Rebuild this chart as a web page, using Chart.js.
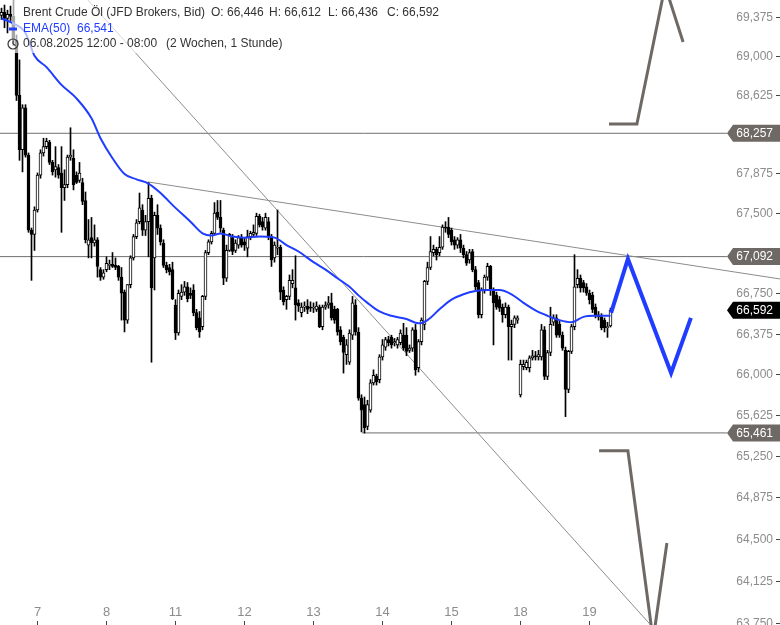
<!DOCTYPE html>
<html>
<head>
<meta charset="utf-8">
<script src="https://cdn.jsdelivr.net/npm/chart.js@4.4.1/dist/chart.umd.min.js"></script>
<style>
html, body { margin: 0; padding: 0; background: #fff; }
#wrap { width: 780px; height: 625px; }
</style>
</head>
<body>
<div id="wrap"><canvas id="chart" width="780" height="625"></canvas></div>
<script>
// hourly candles, 06.08.2025 12:00 .. 19.08.2025 07:00
const opens = [
  69.39, 69.42, 69.36, 69.40, 69.38, 69.15, 68.62, 68.10, 68.50, 68.05,
  67.34, 67.30, 67.53, 67.86, 68.07, 68.13, 68.17, 67.98, 67.91, 67.93,
  67.88, 67.74, 67.77, 68.03, 68.02, 67.86, 67.81, 67.79, 67.62, 67.20,
  67.27, 67.22, 67.25, 66.97, 66.90, 66.97, 67.01, 67.02, 67.01, 67.00,
  66.90, 66.76, 66.50, 66.83, 67.08, 67.28, 67.42, 67.53, 67.34, 67.42,
  67.64, 67.08, 67.48, 67.36, 67.22, 67.01, 66.99, 66.97, 66.64, 66.38,
  66.72, 66.76, 66.81, 66.75, 66.78, 66.57, 66.52, 66.44, 66.72, 67.13,
  67.23, 67.31, 67.51, 67.46, 67.34, 66.89, 67.15, 67.27, 67.15, 67.20,
  67.27, 67.23, 67.17, 67.28, 67.30, 67.31, 67.47, 67.42, 67.36, 67.42,
  67.28, 67.08, 67.17, 67.18, 66.78, 66.69, 66.72, 66.84, 66.80, 66.66,
  66.57, 66.62, 66.63, 66.62, 66.61, 66.60, 66.62, 66.44, 66.62, 66.64,
  66.66, 66.60, 66.60, 66.41, 66.34, 66.18, 66.11, 66.36, 66.64, 66.39,
  65.78, 65.72, 65.52, 65.67, 65.92, 65.98, 65.95, 66.16, 66.25, 66.32,
  66.34, 66.29, 66.27, 66.29, 66.36, 66.36, 66.22, 66.24, 66.41, 66.06,
  66.30, 66.46, 66.86, 66.99, 67.13, 67.16, 67.13, 67.18, 67.37, 67.37,
  67.34, 67.25, 67.20, 67.25, 67.17, 67.11, 67.06, 67.14, 66.97, 66.85,
  66.55, 66.78, 66.90, 67.00, 66.78, 66.73, 66.69, 66.62, 66.55, 66.62,
  66.44, 66.46, 66.50, 65.81, 66.07, 66.06, 66.06, 66.15, 66.17, 66.16,
  66.16, 66.41, 65.98, 66.20, 66.48, 66.52, 66.46, 66.36, 66.22, 65.86,
  66.21, 66.44, 66.83, 66.89, 66.85, 66.81, 66.75, 66.73, 66.62, 66.55,
  66.53, 66.50, 66.43, 66.446
];
const highs = [
  69.46, 69.49, 69.44, 69.48, 69.54, 69.20, 68.96, 68.53, 68.53, 68.07,
  67.36, 67.56, 67.88, 68.10, 68.21, 68.21, 68.19, 68.00, 68.13, 67.96,
  68.13, 67.91, 68.05, 68.31, 68.10, 67.89, 67.98, 67.83, 67.70, 67.44,
  67.46, 67.39, 67.27, 66.99, 66.97, 67.09, 67.06, 67.13, 67.08, 67.01,
  66.99, 66.78, 66.83, 67.10, 67.30, 67.44, 67.69, 67.58, 67.48, 67.79,
  67.67, 67.51, 67.58, 67.39, 67.25, 67.04, 67.02, 67.04, 66.69, 66.78,
  66.83, 66.86, 66.85, 66.80, 66.83, 66.60, 66.58, 66.73, 67.15, 67.25,
  67.33, 67.60, 67.62, 67.62, 67.36, 67.20, 67.31, 67.30, 67.25, 67.29,
  67.30, 67.27, 67.34, 67.33, 67.39, 67.50, 67.49, 67.46, 67.50, 67.46,
  67.30, 67.23, 67.53, 67.20, 66.81, 66.73, 66.92, 66.97, 67.10, 66.69,
  66.66, 66.67, 66.69, 66.67, 66.66, 66.67, 66.64, 66.64, 66.67, 66.72,
  66.75, 66.63, 66.61, 66.44, 66.36, 66.32, 66.41, 66.72, 66.69, 66.43,
  65.81, 65.79, 65.76, 65.95, 66.04, 66.00, 66.18, 66.32, 66.34, 66.35,
  66.36, 66.33, 66.34, 66.41, 66.47, 66.43, 66.27, 66.43, 66.46, 66.32,
  66.52, 66.87, 67.04, 67.28, 67.20, 67.18, 67.28, 67.39, 67.42, 67.46,
  67.36, 67.28, 67.27, 67.30, 67.20, 67.14, 67.16, 67.16, 67.00, 66.87,
  66.80, 66.92, 67.03, 67.01, 66.80, 66.76, 66.72, 66.65, 66.66, 66.64,
  66.50, 66.54, 66.54, 66.13, 66.13, 66.13, 66.17, 66.22, 66.21, 66.22,
  66.46, 66.44, 66.22, 66.62, 66.55, 66.55, 66.49, 66.39, 66.25, 66.22,
  66.46, 67.11, 66.97, 66.92, 66.87, 66.84, 66.78, 66.76, 66.65, 66.58,
  66.56, 66.52, 66.48, 66.612
];
const lows = [
  69.35, 69.27, 69.22, 69.34, 69.10, 68.57, 68.00, 67.89, 68.03, 67.32,
  66.87, 67.15, 67.51, 67.83, 68.04, 68.11, 67.96, 67.86, 67.84, 67.83,
  67.32, 67.62, 67.74, 68.00, 67.72, 67.78, 67.79, 67.58, 67.22, 67.08,
  67.08, 67.19, 66.90, 66.87, 66.88, 66.95, 66.97, 66.99, 66.97, 66.87,
  66.50, 66.39, 66.47, 66.80, 67.06, 67.26, 67.40, 67.29, 67.29, 67.09,
  66.11, 66.78, 67.30, 67.20, 66.99, 66.94, 66.92, 66.69, 66.32, 66.36,
  66.69, 66.73, 66.67, 66.70, 66.54, 66.41, 66.34, 66.41, 66.69, 67.11,
  67.21, 67.30, 67.44, 67.32, 66.83, 66.86, 67.14, 67.11, 67.13, 67.17,
  67.18, 67.15, 67.09, 67.25, 67.28, 67.29, 67.37, 67.34, 67.34, 67.25,
  67.00, 67.04, 67.11, 66.69, 66.64, 66.60, 66.69, 66.80, 66.50, 66.58,
  66.53, 66.58, 66.56, 66.58, 66.57, 66.58, 66.43, 66.41, 66.60, 66.61,
  66.50, 66.47, 66.36, 66.27, 66.01, 66.09, 66.09, 66.32, 66.36, 65.76,
  65.47, 65.46, 65.49, 65.65, 65.90, 65.90, 65.92, 66.13, 66.22, 66.26,
  66.24, 66.26, 66.24, 66.27, 66.22, 66.17, 66.20, 66.21, 65.99, 66.02,
  66.27, 66.41, 66.83, 66.97, 67.10, 67.06, 67.10, 67.16, 67.32, 67.27,
  67.20, 67.16, 67.17, 67.13, 67.08, 67.01, 67.03, 66.95, 66.78, 66.52,
  66.52, 66.75, 66.87, 66.73, 66.27, 66.60, 66.58, 66.48, 66.52, 66.13,
  66.13, 66.43, 66.47, 65.79, 66.04, 66.04, 66.02, 66.13, 66.13, 66.13,
  66.13, 65.95, 65.95, 66.17, 66.45, 66.34, 66.34, 66.22, 65.61, 65.83,
  66.19, 66.41, 66.80, 66.76, 66.76, 66.73, 66.65, 66.57, 66.52, 66.50,
  66.41, 66.39, 66.34, 66.436
];
const closes = [
  69.42, 69.36, 69.40, 69.38, 69.15, 68.62, 68.10, 68.50, 68.05, 67.34,
  67.30, 67.53, 67.86, 68.07, 68.13, 68.18, 67.98, 67.89, 67.94, 67.86,
  67.74, 67.77, 68.03, 68.05, 67.77, 67.79, 67.88, 67.61, 67.25, 67.25,
  67.22, 67.25, 67.00, 66.90, 66.94, 67.03, 67.02, 67.00, 66.99, 66.90,
  66.75, 66.50, 66.83, 67.08, 67.28, 67.41, 67.55, 67.34, 67.42, 67.64,
  66.80, 67.48, 67.36, 67.23, 67.01, 66.97, 66.95, 66.70, 66.38, 66.75,
  66.76, 66.81, 66.70, 66.73, 66.57, 66.43, 66.39, 66.72, 67.13, 67.23,
  67.31, 67.50, 67.46, 67.36, 66.89, 67.15, 67.30, 67.14, 67.22, 67.27,
  67.20, 67.20, 67.28, 67.31, 67.32, 67.47, 67.39, 67.37, 67.46, 67.28,
  67.06, 67.20, 67.18, 66.76, 66.67, 66.72, 66.87, 66.87, 66.64, 66.63,
  66.62, 66.63, 66.60, 66.61, 66.62, 66.63, 66.44, 66.62, 66.64, 66.66,
  66.52, 66.50, 66.39, 66.30, 66.20, 66.27, 66.38, 66.66, 66.39, 65.78,
  65.67, 65.51, 65.72, 65.92, 65.99, 65.93, 66.16, 66.27, 66.32, 66.29,
  66.27, 66.30, 66.32, 66.38, 66.24, 66.21, 66.24, 66.41, 66.04, 66.30,
  66.50, 66.86, 66.99, 67.14, 67.16, 67.11, 67.18, 67.37, 67.36, 67.30,
  67.23, 67.20, 67.25, 67.17, 67.11, 67.03, 67.13, 66.97, 66.81, 66.55,
  66.78, 66.90, 67.00, 66.78, 66.66, 66.62, 66.61, 66.55, 66.62, 66.44,
  66.46, 66.52, 66.52, 66.09, 66.09, 66.11, 66.15, 66.17, 66.16, 66.18,
  66.41, 65.98, 66.20, 66.46, 66.52, 66.36, 66.36, 66.24, 65.86, 66.21,
  66.44, 66.81, 66.89, 66.80, 66.80, 66.75, 66.69, 66.60, 66.55, 66.53,
  66.43, 66.43, 66.44, 66.592
];

// EMA(50) at a few candles
const emaIdx  = [0, 4, 8, 11, 15, 20, 25, 30, 33, 37, 41, 45, 49, 53, 58, 63, 67, 70, 73, 77, 81, 86, 91, 95, 99, 104, 108, 112, 116, 119, 122, 126, 130, 135, 139, 142, 146, 150, 154, 158, 162, 166, 170, 174, 178, 182, 186, 190, 194, 198, 203];
const emaVals = [69.36, 69.31, 69.22, 69.00, 68.89, 68.72, 68.59, 68.40, 68.21, 68.02, 67.87, 67.82, 67.78, 67.69, 67.55, 67.42, 67.31, 67.29, 67.31, 67.28, 67.27, 67.28, 67.27, 67.20, 67.14, 67.04, 66.97, 66.89, 66.81, 66.73, 66.66, 66.58, 66.54, 66.51, 66.47, 66.50, 66.60, 66.69, 66.74, 66.77, 66.78, 66.78, 66.74, 66.66, 66.59, 66.54, 66.50, 66.48, 66.53, 66.54, 66.541];

const dayLabels = ['7', '8', '11', '12', '13', '14', '15', '18', '19'];
const dayIdx = [12, 35, 58, 81, 104, 127, 150, 173, 196];

const yTicks = [69.375, 69.0, 68.625, 68.25, 67.875, 67.5, 67.125, 66.75, 66.375, 66.0, 65.625, 65.25, 64.875, 64.5, 64.125, 63.75];

// drawn levels and lines
const levels = [68.257, 67.092, 65.461];
const levelFrom = [-0.5, -0.5, 120.2];
const levelTo = 241.8;
const trendA = [[25.8, 69.636], [218.2, 63.676]];
const trendB = [[48.8, 67.795], [262.8, 66.869]];
const projBlue = [[203.2, 66.567], [208.8, 67.070], [223.2, 66.012], [229.8, 66.521]];
const projUp = [[202.5, 68.346], [211.8, 68.346], [221.2, 69.675], [227.2, 69.133]];
const projDown = [[199.2, 65.298], [208.8, 65.298], [217.2, 63.596], [221.8, 64.462]];

const n = closes.length;
const fmt = v => v.toFixed(3).replace('.', ',');
const pts = arr => arr.map(p => ({ x: p[0], y: p[1] }));

const blue = '#1f3cff';
const tagGrey = '#6e6965';

function lineSet(data, color, width, order) {
  return {
    type: 'line', data: data, borderColor: color, borderWidth: width,
    pointRadius: 0, fill: false, order: order
  };
}

const datasets = [
  lineSet(pts(projBlue), blue, 4, 0),
  lineSet(pts(projUp), tagGrey, 3, 0),
  lineSet(pts(projDown), tagGrey, 3, 0),
  {
    type: 'line',
    data: emaIdx.map((x, k) => ({ x: x, y: emaVals[k] })),
    borderColor: blue, borderWidth: 2, pointRadius: 0,
    cubicInterpolationMode: 'monotone', order: 0
  },
  {
    type: 'bar',
    data: closes.map((c, i) => ({ x: i, y: [opens[i], c] })),
    backgroundColor: ctx => closes[ctx.dataIndex] >= opens[ctx.dataIndex] ? '#fff' : '#000',
    borderColor: '#000', borderWidth: 1, borderSkipped: false,
    barThickness: 3, minBarLength: 1, grouped: false, order: 1
  },
  {
    type: 'bar',
    data: closes.map((c, i) => ({ x: i, y: [lows[i], highs[i]] })),
    backgroundColor: '#000', barThickness: 1, grouped: false, order: 2
  },
  lineSet(pts(trendA), '#8c8c8c', 1, 3),
  lineSet(pts(trendB), '#8c8c8c', 1, 3)
];
levels.forEach((v, k) => {
  datasets.push(lineSet([{ x: levelFrom[k], y: v }, { x: levelTo, y: v }], '#6f6f6f', 1, 3));
});

function tag(ctx, py, text, bg) {
  ctx.fillStyle = bg;
  ctx.beginPath();
  ctx.moveTo(727, py);
  ctx.lineTo(733, py - 8.5);
  ctx.lineTo(780, py - 8.5);
  ctx.lineTo(780, py + 8.5);
  ctx.lineTo(733, py + 8.5);
  ctx.closePath();
  ctx.fill();
  ctx.fillStyle = '#fff';
  ctx.textAlign = 'right';
  ctx.fillText(text, 773, py + 0.5);
}

const overlay = {
  id: 'overlay',
  afterDatasetsDraw(chart) {
    const ctx = chart.ctx;
    const xs = chart.scales.x, ys = chart.scales.y;
    ctx.save();
    ctx.textBaseline = 'middle';

    // y axis labels
    ctx.font = '12px "Liberation Sans", Arial, sans-serif';
    yTicks.forEach(v => {
      const py = Math.round(ys.getPixelForValue(v));
      ctx.fillStyle = '#8c8c8c';
      ctx.textAlign = 'right';
      ctx.fillText(fmt(v), 773, py + 0.5);
      ctx.fillStyle = '#444';
      ctx.fillRect(776, py, 4, 1);
    });

    // x axis labels
    ctx.font = '13px "Liberation Sans Narrow", "Liberation Sans", sans-serif';
    ctx.textAlign = 'center';
    dayIdx.forEach((d, k) => {
      const px = Math.round(xs.getPixelForValue(d) - 0.5);
      ctx.fillStyle = '#8c8c8c';
      ctx.fillText(dayLabels[k], px + 0.5, 612);
      ctx.fillStyle = '#444';
      ctx.fillRect(px, 621, 1, 4);
    });

    // price tags
    ctx.font = '12px "Liberation Sans", Arial, sans-serif';
    levels.forEach(v => tag(ctx, ys.getPixelForValue(v), fmt(v), tagGrey));
    tag(ctx, ys.getPixelForValue(closes[n - 1]), fmt(closes[n - 1]), '#000');

    // legend block
    ctx.fillStyle = 'rgba(255,255,255,0.65)';
    ctx.fillRect(12, 0, 455, 53);
    ctx.textAlign = 'left';
    ctx.fillStyle = '#333';
    ctx.fillText('Brent Crude Öl (JFD Brokers, Bid)', 23, 13);
    ctx.fillText('O: ' + fmt(opens[n - 1]), 211, 13);
    ctx.fillText('H: ' + fmt(highs[n - 1]), 269, 13);
    ctx.fillText('L: ' + fmt(lows[n - 1]), 328, 13);
    ctx.fillText('C: ' + fmt(closes[n - 1]), 387, 13);

    ctx.fillStyle = blue;
    ctx.fillRect(9, 27.5, 8, 3);
    ctx.fillText('EMA(50)', 23, 29);
    ctx.fillText(fmt(emaVals[emaVals.length - 1]), 77, 29);

    ctx.strokeStyle = '#333';
    ctx.lineWidth = 1.2;
    ctx.beginPath();
    ctx.arc(13, 44, 5, 0, Math.PI * 2);
    ctx.moveTo(13, 44);
    ctx.lineTo(13, 40.5);
    ctx.moveTo(13, 44);
    ctx.lineTo(15.5, 45.5);
    ctx.stroke();
    ctx.fillStyle = '#333';
    ctx.fillText('06.08.2025 12:00 - 08:00', 23, 44);
    ctx.fillText('(2 Wochen, 1 Stunde)', 166, 44);
    ctx.restore();
  }
};

new Chart(document.getElementById('chart'), {
  type: 'bar',
  data: { datasets: datasets },
  options: {
    responsive: false,
    animation: false,
    devicePixelRatio: 1,
    layout: { padding: 0 },
    scales: {
      x: { type: 'linear', min: -0.5, max: 259.5, bounds: 'data', offset: false, display: false },
      y: { type: 'logarithmic', min: 63.729, max: 69.539, bounds: 'data', display: false }
    },
    plugins: { legend: { display: false }, tooltip: { enabled: false } }
  },
  plugins: [overlay]
});
</script>
</body>
</html>
